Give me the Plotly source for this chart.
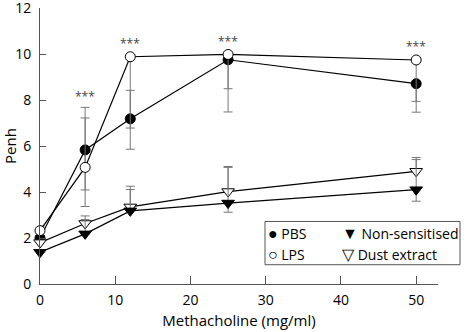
import plotly.graph_objects as go

dose = [0, 6, 12, 25, 50]

pbs = [2.0, 5.83, 7.18, 9.75, 8.71]
pbs_up = [0, 1.85, 1.24, 0, 0]
pbs_dn = [0, 1.74, 1.32, 1.26, 1.24]

lps = [2.32, 5.07, 9.88, 9.98, 9.74]
lps_up = [0.2, 2.15, 0, 0, 0]
lps_dn = [0, 1.7, 3.1, 2.5, 1.8]

nonsens = [1.38, 2.18, 3.18, 3.52, 4.1]
ns_up = [0, 0.62, 0.93, 1.55, 1.31]
ns_dn = [0, 0, 0, 0.4, 0.5]

dust = [1.8, 2.63, 3.35, 4.02, 4.9]
du_up = [0, 0.33, 0.9, 1.09, 0.6]
du_dn = [0, 0, 0, 0, 0]

sig_x = [6, 12, 25, 50]
sig_y = [8.15, 10.46, 10.56, 10.31]
sig_text = ["***", "***", "***", "***"]

x_ticks = [0, 10, 20, 30, 40, 50]
y_ticks = [0, 2, 4, 6, 8, 10, 12]

legend_labels = ["PBS", "Non-sensitised", "LPS", "Dust extract"]
legend_glyphs = ["\u25CF", "\u25BC", "\u25CB", "\u25BD"]

FONT = "Open Sans"
ERR = "#777777"
TOP = 8.0
BOTTOM_Y = 284.3

def err(up, dn):
    return dict(type="data", symmetric=False, array=up, arrayminus=dn,
                color=ERR, thickness=1, width=4.5)

fig = go.Figure()
series = [
    ("PBS", pbs, pbs_up, pbs_dn, "circle", "black", 10),
    ("LPS", lps, lps_up, lps_dn, "circle", "white", 10),
    ("Dust extract", dust, du_up, du_dn, "triangle-down", "white", 11),
    ("Non-sensitised", nonsens, ns_up, ns_dn, "triangle-down", "black", 11),
]
for name, y, up, dn, sym, fill, size in series:
    fig.add_trace(go.Scatter(
        x=dose, y=y, name=name, mode="lines+markers",
        line=dict(color="black", width=1.2),
        marker=dict(symbol=sym, color=fill, size=size,
                    line=dict(color="black", width=1)),
        error_y=err(up, dn), cliponaxis=False, showlegend=False,
    ))

for sx, sy, st in zip(sig_x, sig_y, sig_text):
    fig.add_annotation(x=sx, y=sy, text=st, showarrow=False,
                       font=dict(family=FONT, size=12, color="#444444"),
                       xanchor="center", yanchor="middle")

# legend box (pixel -> paper conversion of the plot area)
def px(x):
    return (x - 40) / 398.0

def py(y):
    return (BOTTOM_Y - y) / (BOTTOM_Y - TOP)

fig.add_shape(type="rect", xref="paper", yref="paper",
              x0=px(265), x1=px(460), y0=py(265), y1=py(221.7),
              line=dict(color="#555555", width=1), fillcolor="white", layer="above")
pos = [(266, 233.5), (340, 233.5), (266, 254.5), (340, 254.5)]
for (lx, ly), g, lab in zip(pos, legend_glyphs, legend_labels):
    fig.add_annotation(xref="paper", yref="paper", x=px(lx), y=py(ly),
                       text='<span style="font-size:16px">' + g + '</span> ' + lab,
                       showarrow=False, xanchor="left", height=20, valign="middle",
                       yanchor="middle", font=dict(family=FONT, size=14, color="black"))

fig.update_layout(
    width=466, height=332,
    margin=dict(l=40, r=28, t=TOP, b=332 - BOTTOM_Y, autoexpand=False),
    paper_bgcolor="white", plot_bgcolor="white",
    font=dict(family=FONT, size=14, color="black"),
    showlegend=False,
)
fig.update_xaxes(range=[0, 52.9], tickvals=x_ticks, ticks="inside", ticklen=8,
                 tickcolor="#555555", showline=True, linecolor="#555555",
                 linewidth=1, showgrid=False, zeroline=False, automargin=False,
                 tickfont=dict(size=14), ticklabelstandoff=3,
                 title=dict(text="Methacholine (mg/ml)", font=dict(size=15), standoff=7))
fig.update_yaxes(range=[0, 12], tickvals=y_ticks, ticks="inside", ticklen=6,
                 tickcolor="#555555", showline=True, linecolor="#555555",
                 linewidth=1, showgrid=False, zeroline=False, automargin=False,
                 tickfont=dict(size=14), ticklabelstandoff=5,
                 ticklabeloverflow="allow",
                 title=dict(text="Penh", font=dict(size=15), standoff=4))

fig.write_html("out.html", config={"displayModeBar": False},
               post_script="document.body.style.margin='0';document.body.style.padding='0';")
